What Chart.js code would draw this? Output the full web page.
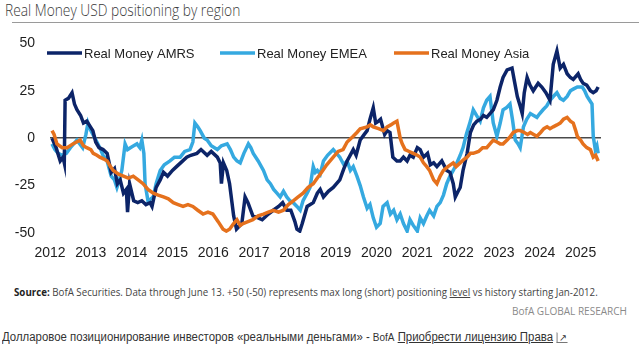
<!DOCTYPE html>
<html>
<head>
<meta charset="utf-8">
<script src="https://cdn.jsdelivr.net/npm/chart.js@4.4.1/dist/chart.umd.min.js"></script>
<style>
  body { margin: 0; width: 639px; height: 352px; overflow: hidden; background: #fff; position: relative; }
  .txt { position: absolute; white-space: nowrap; transform-origin: left top; }
  #title { left: 5px; top: 0px; font: 300 17px/20px 'Open Sans', sans-serif; color: #3a3a3a; }
  #rule { position: absolute; left: 12px; top: 22px; width: 627px; height: 1px; background: #9a9a9a; }
  #chartBox { position: absolute; left: 0; top: 20px; width: 639px; height: 243px; }
  #source { left: 14px; top: 285px; font: 11px/14px 'Open Sans', sans-serif; color: #444; }
  #source b { color: #222; }
  #brand { left: 512px; top: 304px; font: 11px/14px 'Open Sans', sans-serif; color: #8a8a8a; }
  #caption { left: 2px; top: 330px; font: 12px/14px 'Liberation Sans', Arial, sans-serif; color: #333; }
  #caption u { color: #333; }
  #caption .small { font-size: 10.5px; }
  #caption .ext { display: inline-block; font-size: 10px; border: 1px solid #777; border-top-color: transparent; border-right-color: transparent; line-height: 9px; padding: 0 1px; margin-left: 4px; }
</style>
</head>
<body>
<div id="title" class="txt" data-fit="235">Real Money USD positioning by region</div>
<div id="rule"></div>
<div id="chartBox"><canvas id="chart" width="639" height="243"></canvas></div>
<div id="source" class="txt" data-fit="584"><b>Source:</b> BofA Securities. Data through June 13. +50 (-50) represents max long (short) positioning <u>level</u> vs history starting Jan-2012.</div>
<div id="brand" class="txt" data-fit="115">BofA GLOBAL RESEARCH</div>
<div id="caption" class="txt" data-fit="566">Долларовое позиционирование инвесторов «реальными деньгами» - <span class="small">BofA</span> <u>Приобрести лицензию Права</u><span class="ext">↗</span></div>

<script>
// series names and colours
const seriesLabels = ['Real Money AMRS', 'Real Money EMEA', 'Real Money Asia'];
const seriesColors = ['#0c2468', '#35a9e0', '#e5711d'];

// x tick labels (years)
const tickYears = [2012, 2013, 2014, 2015, 2016, 2017, 2018, 2019, 2020, 2021, 2022, 2023, 2024, 2025];
const yTicks = [-50, -25, 0, 25, 50];

// AMRS (decimal year, level)
const amrsDates = [2012.05, 2012.15, 2012.25, 2012.32, 2012.35, 2012.37, 2012.45, 2012.54, 2012.6, 2012.66, 2012.75, 2012.82, 2012.9, 2013.05, 2013.12, 2013.2, 2013.3, 2013.4, 2013.5, 2013.58, 2013.65, 2013.72, 2013.8, 2013.87, 2013.9, 2013.95, 2014.05, 2014.15, 2014.25, 2014.35, 2014.45, 2014.5, 2014.6, 2014.7, 2014.78, 2014.88, 2015.0, 2015.1, 2015.2, 2015.35, 2015.45, 2015.6, 2015.7, 2015.85, 2015.95, 2016.1, 2016.17, 2016.2, 2016.25, 2016.33, 2016.4, 2016.5, 2016.57, 2016.7, 2016.78, 2016.85, 2016.97, 2017.1, 2017.2, 2017.35, 2017.47, 2017.6, 2017.7, 2017.8, 2017.9, 2018.0, 2018.05, 2018.12, 2018.18, 2018.3, 2018.45, 2018.55, 2018.62, 2018.7, 2018.82, 2018.94, 2019.1, 2019.2, 2019.28, 2019.43, 2019.5, 2019.6, 2019.7, 2019.77, 2019.84, 2019.92, 2019.98, 2020.05, 2020.1, 2020.2, 2020.26, 2020.33, 2020.4, 2020.5, 2020.58, 2020.66, 2020.75, 2020.82, 2020.9, 2021.0, 2021.07, 2021.15, 2021.25, 2021.32, 2021.4, 2021.48, 2021.6, 2021.72, 2021.8, 2021.88, 2021.93, 2022.0, 2022.05, 2022.12, 2022.22, 2022.3, 2022.38, 2022.46, 2022.55, 2022.62, 2022.7, 2022.78, 2022.86, 2022.95, 2023.03, 2023.1, 2023.2, 2023.32, 2023.38, 2023.45, 2023.52, 2023.57, 2023.62, 2023.69, 2023.76, 2023.84, 2023.96, 2024.05, 2024.15, 2024.25, 2024.33, 2024.42, 2024.5, 2024.58, 2024.67, 2024.75, 2024.82, 2024.94, 2025.0, 2025.06, 2025.15, 2025.24, 2025.31, 2025.38, 2025.43];
const amrsValues = [0, -5, -12, -10, -13, 20, 21, 24, 18, 15, 12, 8, 9, 4, -2, -5, -6, -8, -18, -16, -24, -22, -29, -27, -39, -24, -33, -34, -33, -35, -34, -36, -26, -22, -18, -20, -17, -15, -13, -10, -9, -8, -6, -9, -7, -10, -13, -24, -13, -17, -24, -41, -48, -45, -31, -34, -41, -42, -43, -40, -38, -36, -34, -38, -38, -44, -48, -49, -45, -36, -34, -29, -27, -31, -28, -26, -22, -16, -12, -6, -9, -1, 2, 4, 10, 16, 8, 9, 10, 2, 4, 3, -10, -12, -12, -10, -12, -9, -10, -5, -6, -10, -8, -14, -13, -15, -12, -17, -18, -24, -31, -28, -26, -17, -8, 3, 7, 9, 10, 12, 11, 13, 15, 20, 27, 32, 36, 37, 30, 22, 17, 13, 24, 32, 28, 25, 29, 27, 24, 20, 39, 46, 37, 39, 34, 32, 31, 34, 31, 29, 28, 25, 24, 25, 27];

// EMEA
const emeaDates = [2012.05, 2012.12, 2012.2, 2012.3, 2012.4, 2012.5, 2012.58, 2012.66, 2012.73, 2012.8, 2012.88, 2012.93, 2013.0, 2013.1, 2013.22, 2013.3, 2013.4, 2013.5, 2013.58, 2013.64, 2013.7, 2013.76, 2013.84, 2013.9, 2013.97, 2014.05, 2014.13, 2014.2, 2014.25, 2014.3, 2014.33, 2014.4, 2014.47, 2014.53, 2014.6, 2014.7, 2014.8, 2014.94, 2015.05, 2015.19, 2015.3, 2015.43, 2015.5, 2015.55, 2015.62, 2015.68, 2015.78, 2015.85, 2015.95, 2016.1, 2016.2, 2016.34, 2016.42, 2016.5, 2016.58, 2016.66, 2016.75, 2016.86, 2016.92, 2016.98, 2017.1, 2017.23, 2017.32, 2017.4, 2017.48, 2017.56, 2017.64, 2017.72, 2017.8, 2017.88, 2017.96, 2018.05, 2018.13, 2018.2, 2018.3, 2018.37, 2018.45, 2018.5, 2018.55, 2018.62, 2018.7, 2018.8, 2018.94, 2019.02, 2019.1, 2019.2, 2019.28, 2019.36, 2019.43, 2019.52, 2019.6, 2019.68, 2019.77, 2019.84, 2019.92, 2020.0, 2020.09, 2020.16, 2020.26, 2020.34, 2020.42, 2020.5, 2020.58, 2020.66, 2020.75, 2020.82, 2020.9, 2021.0, 2021.07, 2021.15, 2021.23, 2021.3, 2021.4, 2021.48, 2021.56, 2021.64, 2021.72, 2021.8, 2021.88, 2021.95, 2022.05, 2022.12, 2022.2, 2022.3, 2022.37, 2022.45, 2022.54, 2022.62, 2022.7, 2022.78, 2022.82, 2022.86, 2022.95, 2023.03, 2023.1, 2023.18, 2023.27, 2023.33, 2023.4, 2023.47, 2023.52, 2023.6, 2023.68, 2023.77, 2023.85, 2023.93, 2024.0, 2024.08, 2024.17, 2024.25, 2024.33, 2024.42, 2024.5, 2024.58, 2024.67, 2024.75, 2024.83, 2024.92, 2025.04, 2025.1, 2025.16, 2025.22, 2025.28, 2025.31, 2025.36, 2025.4, 2025.43];
const emeaValues = [-3, -6, -8, -9, -8, -5, -3, -1, -3, -5, 2, 8, 4, 0, -5, -9, -12, -20, -22, -26, -22, -17, -3, -6, -5, -4, -3, -5, -1, -8, -24, -33, -32, -31, -24, -17, -14, -12, -10, -10, -7, -6, -2, 8, 6, 4, 0, -1, -4, -6, -4, -3, -6, -10, -12, -13, -8, -3, -5, -8, -12, -17, -22, -24, -27, -29, -31, -28, -31, -33, -34, -36, -38, -33, -29, -26, -15, -18, -17, -19, -12, -9, -6, -8, -10, -14, -12, -17, -15, -20, -25, -31, -37, -35, -42, -47, -45, -36, -34, -40, -38, -43, -40, -45, -49, -43, -46, -49, -42, -45, -41, -38, -41, -36, -34, -30, -24, -20, -17, -14, -9, -5, 2, 9, 15, 12, 9, 16, 20, 22, 15, 8, 1, 8, 15, 16, 18, 10, -1, -3, -5, 6, 10, 13, 12, 11, 13, 15, 17, 20, 22, 24, 21, 20, 22, 25, 26, 27, 27, 25, 22, 20, 18, 1, -6, -4, -8];

// Asia
const asiaDates = [2012.05, 2012.1, 2012.17, 2012.3, 2012.42, 2012.56, 2012.65, 2012.74, 2012.82, 2012.9, 2013.0, 2013.06, 2013.15, 2013.22, 2013.32, 2013.4, 2013.48, 2013.55, 2013.68, 2013.8, 2013.92, 2014.04, 2014.16, 2014.28, 2014.4, 2014.53, 2014.65, 2014.78, 2014.9, 2015.02, 2015.14, 2015.26, 2015.38, 2015.5, 2015.62, 2015.75, 2015.87, 2015.99, 2016.12, 2016.24, 2016.32, 2016.4, 2016.5, 2016.58, 2016.66, 2016.73, 2016.85, 2016.97, 2017.1, 2017.23, 2017.35, 2017.47, 2017.6, 2017.72, 2017.84, 2017.96, 2018.08, 2018.2, 2018.32, 2018.45, 2018.55, 2018.62, 2018.78, 2018.94, 2019.06, 2019.18, 2019.28, 2019.43, 2019.52, 2019.6, 2019.77, 2019.85, 2019.92, 2020.05, 2020.17, 2020.26, 2020.35, 2020.42, 2020.5, 2020.58, 2020.63, 2020.7, 2020.8, 2020.9, 2021.0, 2021.07, 2021.15, 2021.23, 2021.3, 2021.4, 2021.48, 2021.56, 2021.64, 2021.75, 2021.88, 2021.95, 2022.05, 2022.15, 2022.22, 2022.3, 2022.37, 2022.5, 2022.6, 2022.7, 2022.78, 2022.86, 2022.95, 2023.03, 2023.1, 2023.2, 2023.28, 2023.35, 2023.45, 2023.52, 2023.62, 2023.7, 2023.77, 2023.85, 2023.93, 2024.02, 2024.1, 2024.18, 2024.25, 2024.33, 2024.42, 2024.5, 2024.58, 2024.67, 2024.75, 2024.82, 2024.88, 2024.92, 2025.0, 2025.06, 2025.15, 2025.24, 2025.31, 2025.37, 2025.43];
const asiaValues = [4, 2, -3, -5, -5, -3, -2, -1, -4, -5, -6, -8, -9, -10, -11, -12, -15, -17, -19, -20, -21, -20, -22, -24, -27, -29, -30, -31, -32, -34, -35, -36, -35, -36, -38, -40, -39, -40, -44, -48, -49, -48, -45, -43, -46, -45, -44, -43, -41, -40, -39, -38, -39, -38, -35, -33, -31, -29, -26, -24, -21, -19, -14, -10, -7, -6, -2, 1, 3, 5, 6, 7, 6, 5, 4, 6, 7, 8, 9, 0, -3, -6, -7, -8, -9, -10, -13, -15, -17, -22, -24, -20, -17, -15, -13, -15, -13, -11, -10, -8, -8, -7, -5, -5, -3, -1, -2, -3, -3, -1, 1, 3, 4, 4, 3, 2, 3, 2, 1, 3, 5, 6, 5, 6, 7, 8, 10, 11, 9, 8, 4, 1, -1, -3, -5, -6, -10, -9, -12];

function toPoints(dates, values) {
  return dates.map((d, i) => ({ x: d, y: values[i] }));
}

// legend drawn inside the plot, like the original
const insideLegend = {
  id: 'insideLegend',
  afterDatasetsDraw(chart, args, opts) {
    const ctx = chart.ctx;
    ctx.save();
    ctx.font = opts.font;
    ctx.textBaseline = 'middle';
    chart.data.datasets.forEach((ds, i) => {
      const x = opts.x[i];
      ctx.strokeStyle = ds.borderColor;
      ctx.lineWidth = 3.5;
      ctx.beginPath();
      ctx.moveTo(x, opts.y);
      ctx.lineTo(x + opts.swatch, opts.y);
      ctx.stroke();
      ctx.fillStyle = '#222';
      ctx.fillText(ds.label, x + opts.swatch + 2, opts.y + 1);
    });
    ctx.restore();
  }
};

Chart.defaults.font.family = "'Liberation Sans', Arial, sans-serif";
Chart.defaults.color = '#1e1e1e';

const seriesData = [toPoints(amrsDates, amrsValues), toPoints(emeaDates, emeaValues), toPoints(asiaDates, asiaValues)];
const drawOrder = [1, 2, 0];

new Chart(document.getElementById('chart'), {
  type: 'line',
  data: {
    datasets: seriesData.map((pts, i) => ({
      label: seriesLabels[i],
      data: pts,
      borderColor: seriesColors[i],
      borderWidth: 3.5,
      pointRadius: 0,
      tension: 0,
      fill: false,
      order: drawOrder[i]
    }))
  },
  options: {
    responsive: false,
    animation: false,
    devicePixelRatio: 1,
    layout: { padding: { top: 5, right: 38, left: 0, bottom: 0 } },
    plugins: {
      legend: { display: false },
      tooltip: { enabled: false },
      insideLegend: { x: [47, 220, 394], y: 33, swatch: 35, font: "13px 'Liberation Sans', Arial, sans-serif" }
    },
    scales: {
      x: {
        type: 'linear',
        min: 2012,
        max: 2025.5,
        grid: { display: false },
        border: { display: false },
        afterBuildTicks: (scale) => { scale.ticks = tickYears.map(v => ({ value: v })); },
        afterFit: (scale) => { scale.height = 30; },
        ticks: {
          autoSkip: false,
          maxRotation: 0,
          padding: 4,
          font: { size: 14 },
          callback: (v) => String(v)
        }
      },
      y: {
        min: -50,
        max: 50,
        afterBuildTicks: (scale) => { scale.ticks = yTicks.map(v => ({ value: v })); },
        afterFit: (scale) => { scale.width = 50; },
        border: { display: false },
        grid: {
          drawTicks: false,
          color: (c) => (c.tick && c.tick.value === 0 ? '#4a4a4a' : 'rgba(0,0,0,0)'),
          lineWidth: 1.5
        },
        ticks: { padding: 15, font: { size: 14 } }
      }
    }
  },
  plugins: [insideLegend]
});

// squeeze the condensed texts to the widths seen in the original
document.querySelectorAll('[data-fit]').forEach(el => {
  const target = parseFloat(el.dataset.fit);
  el.style.transform = 'scaleX(' + (target / el.offsetWidth) + ')';
});
</script>
</body>
</html>
